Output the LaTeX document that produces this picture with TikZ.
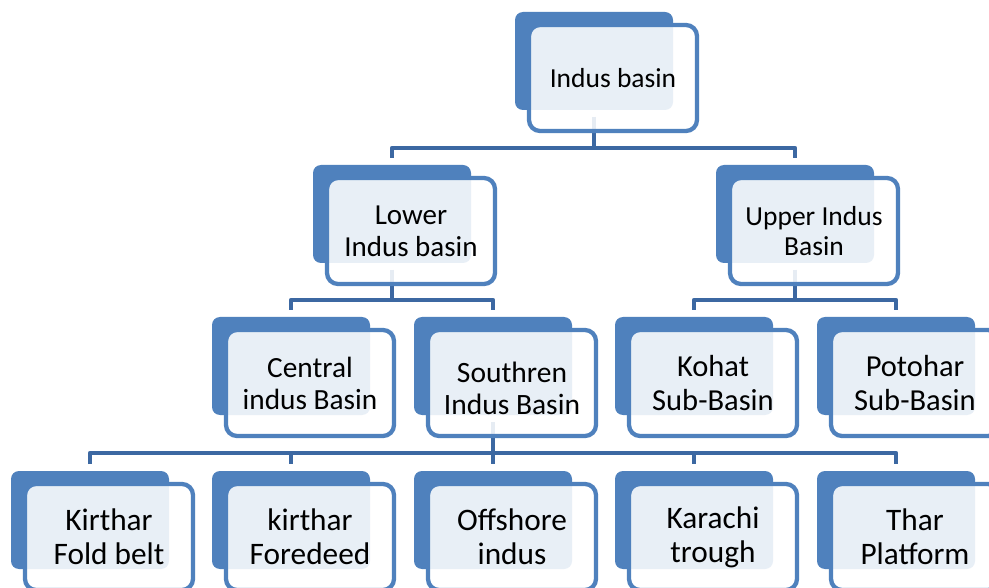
\documentclass[tikz,border=0pt]{standalone}
\usepackage{fontspec}
\setmainfont{Carlito}
\definecolor{boxblue}{HTML}{4F81BD}
\definecolor{linkblue}{HTML}{3C68A2}
\tikzset{
  backbox/.style={draw=none, fill=boxblue, rounded corners=8pt, minimum width=158pt, minimum height=98pt, inner sep=0pt, outer sep=0pt},
  frontbox/.style={draw=boxblue, line width=4.3pt, fill=white, fill opacity=0.875, text opacity=1, rounded corners=11pt, minimum width=168pt, minimum height=106pt, inner sep=0pt, align=center, font=\fontsize{27.5pt}{33pt}\selectfont},
  link/.style={draw=linkblue, line width=4.3pt, line join=round}
}
\begin{document}
\begin{tikzpicture}[x=1pt,y=-1pt]
\clip (0,0) rectangle (989,588);
\fill[white] (0,0) rectangle (989,588);
% back tabs
\node[backbox] (b0)  at (594,61) {};
\node[backbox] (b1)  at (392,214) {};
\node[backbox] (b2)  at (795,214) {};
\node[backbox] (b3)  at (291,366) {};
\node[backbox] (b4)  at (493,366) {};
\node[backbox] (b5)  at (694,366) {};
\node[backbox] (b6)  at (896,366) {};
\node[backbox] (b7)  at (90,520) {};
\node[backbox] (b8)  at (291,520) {};
\node[backbox] (b9)  at (493,520) {};
\node[backbox] (b10) at (694,520) {};
\node[backbox] (b11) at (896,520) {};
% bus coordinates
\coordinate (h0) at (0,148);
\coordinate (h1) at (0,300);
\coordinate (h2) at (0,453);
% connectors
\draw[link] ([yshift=-7pt]b0.south) -- (b0.south |- h0);
\draw[link] ([yshift=7pt]b1.north) -- (b1.north |- h0) -- (b2.north |- h0) -- ([yshift=7pt]b2.north);
\draw[link] ([yshift=-7pt]b1.south) -- (b1.south |- h1);
\draw[link] ([yshift=7pt]b3.north) -- (b3.north |- h1) -- (b4.north |- h1) -- ([yshift=7pt]b4.north);
\draw[link] ([yshift=-7pt]b2.south) -- (b2.south |- h1);
\draw[link] ([yshift=7pt]b5.north) -- (b5.north |- h1) -- (b6.north |- h1) -- ([yshift=7pt]b6.north);
\draw[link] ([yshift=-7pt]b4.south) -- (b4.south |- h2);
\draw[link] ([yshift=7pt]b7.north) -- (b7.north |- h2) -- (b11.north |- h2) -- ([yshift=7pt]b11.north);
\draw[link] (b8.north |- h2) -- ([yshift=7pt]b8.north);
\draw[link] (b9.north |- h2) -- ([yshift=7pt]b9.north);
\draw[link] (b10.north |- h2) -- ([yshift=7pt]b10.north);
% front boxes
\node[frontbox] (f0)  at (613,78)  {Indus basin};
\node[frontbox, font=\fontsize{29pt}{32pt}\selectfont] (f1)  at (411,231) {Lower\\Indus basin};
\node[frontbox, font=\fontsize{27.5pt}{30.5pt}\selectfont] (f2)  at (814,231) {Upper Indus\\Basin};
\node[frontbox, font=\fontsize{29.3pt}{32pt}\selectfont] (f3)  at (310,383) {Central\\indus Basin};
\node[frontbox, font=\fontsize{29.5pt}{32pt}\selectfont] (f4)  at (512,383) {};
\node[font=\fontsize{29.5pt}{32pt}\selectfont, align=center, inner sep=0pt] (t4) at (512,388) {Southren\\Indus Basin};
\node[frontbox, font=\fontsize{30.5pt}{33.5pt}\selectfont] (f5)  at (713,383) {Kohat\\Sub-Basin};
\node[frontbox, font=\fontsize{30.5pt}{33.5pt}\selectfont] (f6)  at (915,383) {Potohar\\Sub-Basin};
\node[frontbox, font=\fontsize{31.3pt}{34pt}\selectfont] (f7)  at (109,537) {Kirthar\\Fold belt};
\node[frontbox, font=\fontsize{31.3pt}{34pt}\selectfont] (f8)  at (310,537) {kirthar\\Foredeed};
\node[frontbox, font=\fontsize{31.3pt}{34pt}\selectfont] (f9)  at (512,537) {Offshore\\indus};
\node[frontbox, font=\fontsize{31.3pt}{34pt}\selectfont] (f10) at (713,537) {Karachi\\trough};
\node[frontbox, font=\fontsize{31.3pt}{34pt}\selectfont] (f11) at (915,537) {Thar\\Platform};
\end{tikzpicture}
\end{document}
